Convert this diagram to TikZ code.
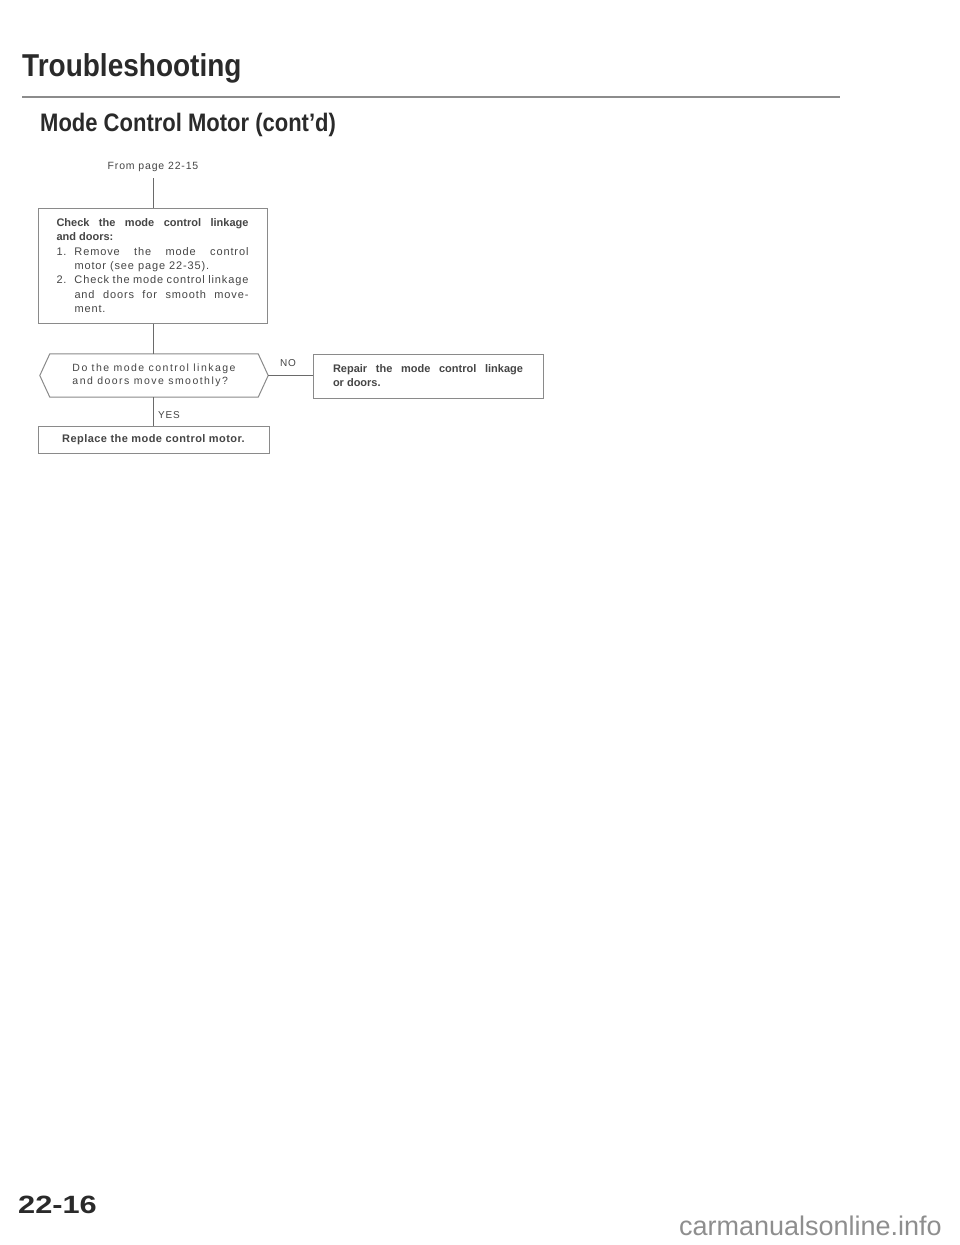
\documentclass[tikz,border=0pt]{standalone}
\usepackage{fontspec}
\setmainfont{Liberation Sans}
\newfontfamily\bodyfont[LetterSpace=8]{Liberation Sans}
\newfontfamily\hexfont[LetterSpace=14]{Liberation Sans}
\usepackage{graphicx}
\definecolor{ink}{HTML}{2A2A2A}
\definecolor{bodyc}{HTML}{454545}
\definecolor{linec}{HTML}{6A6A6A}
\definecolor{boxc}{HTML}{8A8A8A}
\definecolor{rulec}{HTML}{8C8C8C}
\definecolor{wmark}{HTML}{8E8E8E}
\tikzset{
  box/.style={draw=boxc, line width=1pt, rectangle, inner sep=0pt, text=bodyc},
  conn/.style={draw=linec, line width=1pt},
  lbl/.style={font=\bodyfont\fontsize{10}{12}\selectfont, text=bodyc, inner sep=0pt},
  headtext/.style={text=ink, inner sep=0pt},
}
\begin{document}
\begin{tikzpicture}[x=1pt,y=-1pt]
\useasboundingbox[fill=white] (0,0) rectangle (960,1245);

% headings
\node[headtext, anchor=base west] (title) at (22,76)
  {\scalebox{1}[1.13]{\fontsize{28}{30}\selectfont\bfseries Troubleshooting}};
\draw[draw=rulec, line width=2.5pt] (22,97) -- (840,97);
\node[headtext, anchor=base west] (sub) at (40,131)
  {\scalebox{1}[1.15]{\fontsize{22}{24}\selectfont\bfseries Mode Control Motor (cont'd)}};

% flow
\node[lbl, anchor=base, font=\bodyfont\fontsize{10.5}{12}\selectfont] (from) at (153,169) {From page 22-15};

\node[box, minimum width=229pt, minimum height=115pt] (check) at (152.5,265.5)
 {\parbox{192pt}{\fontsize{11}{14.3}\selectfont
   {\bfseries Check the mode control linkage\linebreak and doors:}\par
   {\bodyfont
   \hangindent=18pt\hangafter=1\noindent\makebox[18pt][l]{1.}Remove the mode control\linebreak motor (see page 22-35).\par
   \hangindent=18pt\hangafter=1\noindent\makebox[18pt][l]{2.}Check the mode control linkage\linebreak and doors for smooth move-\linebreak ment.\par}}};

\node[rectangle, inner sep=0pt, minimum width=228pt, minimum height=43pt, text=bodyc,
      font=\hexfont\fontsize{10.5}{13.5}\selectfont, align=left] (hex) at (154,375.5)
  {Do the mode control linkage\\and doors move smoothly?};
\draw[draw=boxc, line width=1pt] (hex.west) -- ([xshift=10pt]hex.north west) -- ([xshift=-10pt]hex.north east)
  -- (hex.east) -- ([xshift=-10pt]hex.south east) -- ([xshift=10pt]hex.south west) -- cycle;

\node[box, minimum width=230pt, minimum height=44pt] (repair) at (428,376)
 {\parbox{190pt}{\fontsize{11}{14}\selectfont\bfseries Repair the mode control linkage\linebreak or doors.}};

\node[box, minimum width=231pt, minimum height=27pt, font=\fontsize{11}{13}\selectfont\bfseries] (replace) at (153.5,439.5)
 {\addfontfeature{LetterSpace=4}Replace the mode control motor.};

\node[lbl] (no) at (288,363) {NO};
\node[lbl] (yes) at (169,415) {YES};

% connectors
\draw[conn] ([yshift=-7pt]from.south) -- (from.south |- check.north);
\draw[conn] (check.south -| from.south) -- (from.south |- hex.north);
\draw[conn] (hex.east) -- (repair.west |- hex.east);
\draw[conn] (from.south |- hex.south) -- (from.south |- replace.north);

% footer
\node[headtext, anchor=base west] (page) at (18,1213)
  {\scalebox{1.23}[1]{\fontsize{25}{27}\selectfont\bfseries 22-16}};
\node[inner sep=0pt, anchor=base east, text=wmark] (wm) at (942,1235)
  {\fontsize{27}{29}\selectfont carmanualsonline.info};
\end{tikzpicture}
\end{document}
